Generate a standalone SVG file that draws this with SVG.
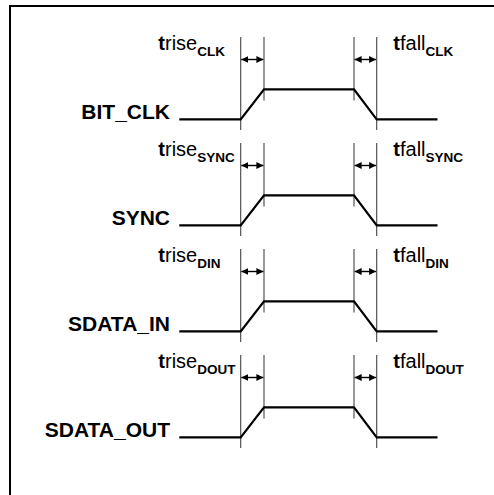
<svg xmlns="http://www.w3.org/2000/svg" width="494" height="495" viewBox="0 0 494 495">
<style>
.frame{stroke:#000;stroke-width:2;fill:none}
.sig{stroke:#000;stroke-width:2.2;fill:none;stroke-linejoin:miter}
.tick{stroke:#444;stroke-width:1.1;fill:none}
.arr{stroke:#000;stroke-width:1.4;fill:none;marker-start:url(#ah);marker-end:url(#ah)}
.lbl{font-family:"Liberation Sans",Arial,sans-serif;font-weight:bold;font-size:21px;fill:#000}
.t{font-family:"Liberation Sans",Arial,sans-serif;font-size:20px;fill:#000}
.tb{font-weight:bold}
.sub{font-weight:bold;font-size:13.5px}
</style>
<defs>
<marker id="ah" viewBox="0 0 10 10" refX="10" refY="5" markerWidth="7" markerHeight="7" markerUnits="userSpaceOnUse" orient="auto-start-reverse">
<path d="M0,0 L10,5 L0,10 Z" fill="#000"/>
</marker>
</defs>
<g id="frame">
<path class="frame" d="M10,495 V6 H494"/>
</g>
<g id="connectors">
<!-- row 1 -->
<line class="tick" x1="240.7" y1="37" x2="240.7" y2="130"/>
<line class="tick" x1="264" y1="37" x2="264" y2="100.5"/>
<line class="tick" x1="354" y1="37" x2="354" y2="100.5"/>
<line class="tick" x1="376.7" y1="37" x2="376.7" y2="130"/>
<line class="arr" x1="241.3" y1="59.5" x2="263.4" y2="59.5"/>
<line class="arr" x1="354.6" y1="59.5" x2="376.1" y2="59.5"/>
<!-- row 2 -->
<line class="tick" x1="240.7" y1="143" x2="240.7" y2="236"/>
<line class="tick" x1="264" y1="143" x2="264" y2="206.5"/>
<line class="tick" x1="354" y1="143" x2="354" y2="206.5"/>
<line class="tick" x1="376.7" y1="143" x2="376.7" y2="236"/>
<line class="arr" x1="241.3" y1="165.5" x2="263.4" y2="165.5"/>
<line class="arr" x1="354.6" y1="165.5" x2="376.1" y2="165.5"/>
<!-- row 3 -->
<line class="tick" x1="240.7" y1="249" x2="240.7" y2="342"/>
<line class="tick" x1="264" y1="249" x2="264" y2="312.5"/>
<line class="tick" x1="354" y1="249" x2="354" y2="312.5"/>
<line class="tick" x1="376.7" y1="249" x2="376.7" y2="342"/>
<line class="arr" x1="241.3" y1="271.5" x2="263.4" y2="271.5"/>
<line class="arr" x1="354.6" y1="271.5" x2="376.1" y2="271.5"/>
<!-- row 4 -->
<line class="tick" x1="240.7" y1="355" x2="240.7" y2="448"/>
<line class="tick" x1="264" y1="355" x2="264" y2="418.5"/>
<line class="tick" x1="354" y1="355" x2="354" y2="418.5"/>
<line class="tick" x1="376.7" y1="355" x2="376.7" y2="448"/>
<line class="arr" x1="241.3" y1="377.5" x2="263.4" y2="377.5"/>
<line class="arr" x1="354.6" y1="377.5" x2="376.1" y2="377.5"/>
</g>
<g id="bit_clk">
<text class="lbl" x="170" y="118.5" text-anchor="end">BIT_CLK</text>
<path class="sig" d="M179.3,119.3 H240.7 L264,89.3 H354 L376.7,119.3 H437.5"/>
<text class="t" x="158.3" y="49.7"><tspan class="tb">t</tspan>rise<tspan class="sub" dy="6.6">CLK</tspan></text>
<text class="t" x="393.3" y="49.7"><tspan class="tb">t</tspan>fall<tspan class="sub" dy="6.6">CLK</tspan></text>
</g>
<g id="sync">
<text class="lbl" x="170" y="224.5" text-anchor="end">SYNC</text>
<path class="sig" d="M179.3,225.3 H240.7 L264,195.3 H354 L376.7,225.3 H437.5"/>
<text class="t" x="158.3" y="155.7"><tspan class="tb">t</tspan>rise<tspan class="sub" dy="6.6">SYNC</tspan></text>
<text class="t" x="393.3" y="155.7"><tspan class="tb">t</tspan>fall<tspan class="sub" dy="6.6">SYNC</tspan></text>
</g>
<g id="sdata_in">
<text class="lbl" x="170" y="330.5" text-anchor="end">SDATA_IN</text>
<path class="sig" d="M179.3,331.3 H240.7 L264,301.3 H354 L376.7,331.3 H437.5"/>
<text class="t" x="158.3" y="261.7"><tspan class="tb">t</tspan>rise<tspan class="sub" dy="6.6">DIN</tspan></text>
<text class="t" x="393.3" y="261.7"><tspan class="tb">t</tspan>fall<tspan class="sub" dy="6.6">DIN</tspan></text>
</g>
<g id="sdata_out">
<text class="lbl" x="170" y="436.5" text-anchor="end">SDATA_OUT</text>
<path class="sig" d="M179.3,437.3 H240.7 L264,407.3 H354 L376.7,437.3 H437.5"/>
<text class="t" x="158.3" y="367.7"><tspan class="tb">t</tspan>rise<tspan class="sub" dy="6.6">DOUT</tspan></text>
<text class="t" x="393.3" y="367.7"><tspan class="tb">t</tspan>fall<tspan class="sub" dy="6.6">DOUT</tspan></text>
</g>
</svg>
